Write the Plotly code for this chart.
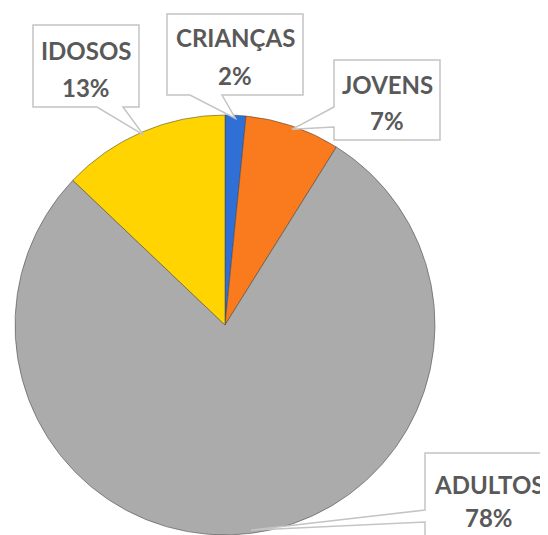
import math
import plotly.graph_objects as go

# ---- data ----
categories = ["CRIANÇAS", "JOVENS", "ADULTOS", "IDOSOS"]
values = [1.6, 7.3, 78.2, 12.9]
colors = ["#2F6FD6", "#F97B1E", "#ABABAB", "#FFD400"]

# page is 548x535; the html body adds an 8px margin, so the figure is offset
OFF = 8
W, H = 548 - OFF, 535 - OFF
total = sum(values)
pct_labels = [f"{v / total * 100:.0f}%" for v in values]


def px(x, y):
    """page pixel -> paper coords"""
    return (x - OFF) / W, 1 - (y - OFF) / H


# pie geometry in page pixels
CX, CY, R = 225.0, 325.0, 210.0
dom_x = [px(CX - R, 0)[0], px(CX + R, 0)[0]]
dom_y = [px(0, CY + R)[1], px(0, CY - R)[1]]

fig = go.Figure(go.Pie(
    labels=categories, values=values, sort=False, direction="clockwise",
    rotation=0, textinfo="none", hoverinfo="label+percent",
    marker=dict(colors=colors, line=dict(color="rgba(70,70,70,0.55)", width=1)),
    domain=dict(x=dom_x, y=dom_y), showlegend=False,
))

# callout boxes (page pixels): box (x0, y0, x1, y1), wedge side, wedge base, text center
callouts = {
    "CRIANÇAS": dict(box=(167, 14, 303, 95), side="bottom", base=(190, 222), tx=235, ty=(38, 75)),
    "JOVENS": dict(box=(334, 60, 440, 140), side="left", base=(107, 127), tx=387, ty=(84, 121)),
    "ADULTOS": dict(box=(425, 453, 560, 548), side="left", base=(510, 522), tx=489, ty=(484, 517)),
    "IDOSOS": dict(box=(33, 25, 139, 107), side="bottom", base=(97, 123), tx=86, ty=(50, 87)),
}

# tip positions from slice mid-angles
cum = 0.0
tips = {}
for cat, v in zip(categories, values):
    mid = (cum + v / 2) / total * 2 * math.pi
    tips[cat] = (CX + R * 0.985 * math.sin(mid), CY - R * 0.985 * math.cos(mid))
    cum += v

shapes = []
annotations = []
for cat, pct in zip(categories, pct_labels):
    c = callouts[cat]
    x0, y0, x1, y1 = c["box"]
    tx, ty = tips[cat]
    a, b = c["base"]
    if c["side"] == "bottom":
        pts = [(x0, y0), (x1, y0), (x1, y1), (b, y1), (tx, ty), (a, y1), (x0, y1)]
    else:  # left
        pts = [(x0, y0), (x1, y0), (x1, y1), (x0, y1), (x0, b), (tx, ty), (x0, a)]
    path = "M " + " L ".join(f"{px(*p)[0]:.5f},{px(*p)[1]:.5f}" for p in pts) + " Z"
    shapes.append(dict(type="path", xref="paper", yref="paper", path=path,
                       fillcolor="white", line=dict(color="#C4C4C4", width=1.5),
                       layer="above"))
    for txt, yy in zip([cat, pct], c["ty"]):
        ax, ay = px(c["tx"], yy)
        annotations.append(dict(
            x=ax, y=ay, xref="paper", yref="paper",
            text=f"<b>{txt}</b>", showarrow=False, xanchor="center", yanchor="middle",
            font=dict(family="Lato", size=24, color="#595959"),
        ))

fig.update_layout(
    width=W, height=H, margin=dict(l=0, r=0, t=0, b=0),
    paper_bgcolor="white", plot_bgcolor="white",
    shapes=shapes, annotations=annotations,
)

fig.write_html("out.html")
